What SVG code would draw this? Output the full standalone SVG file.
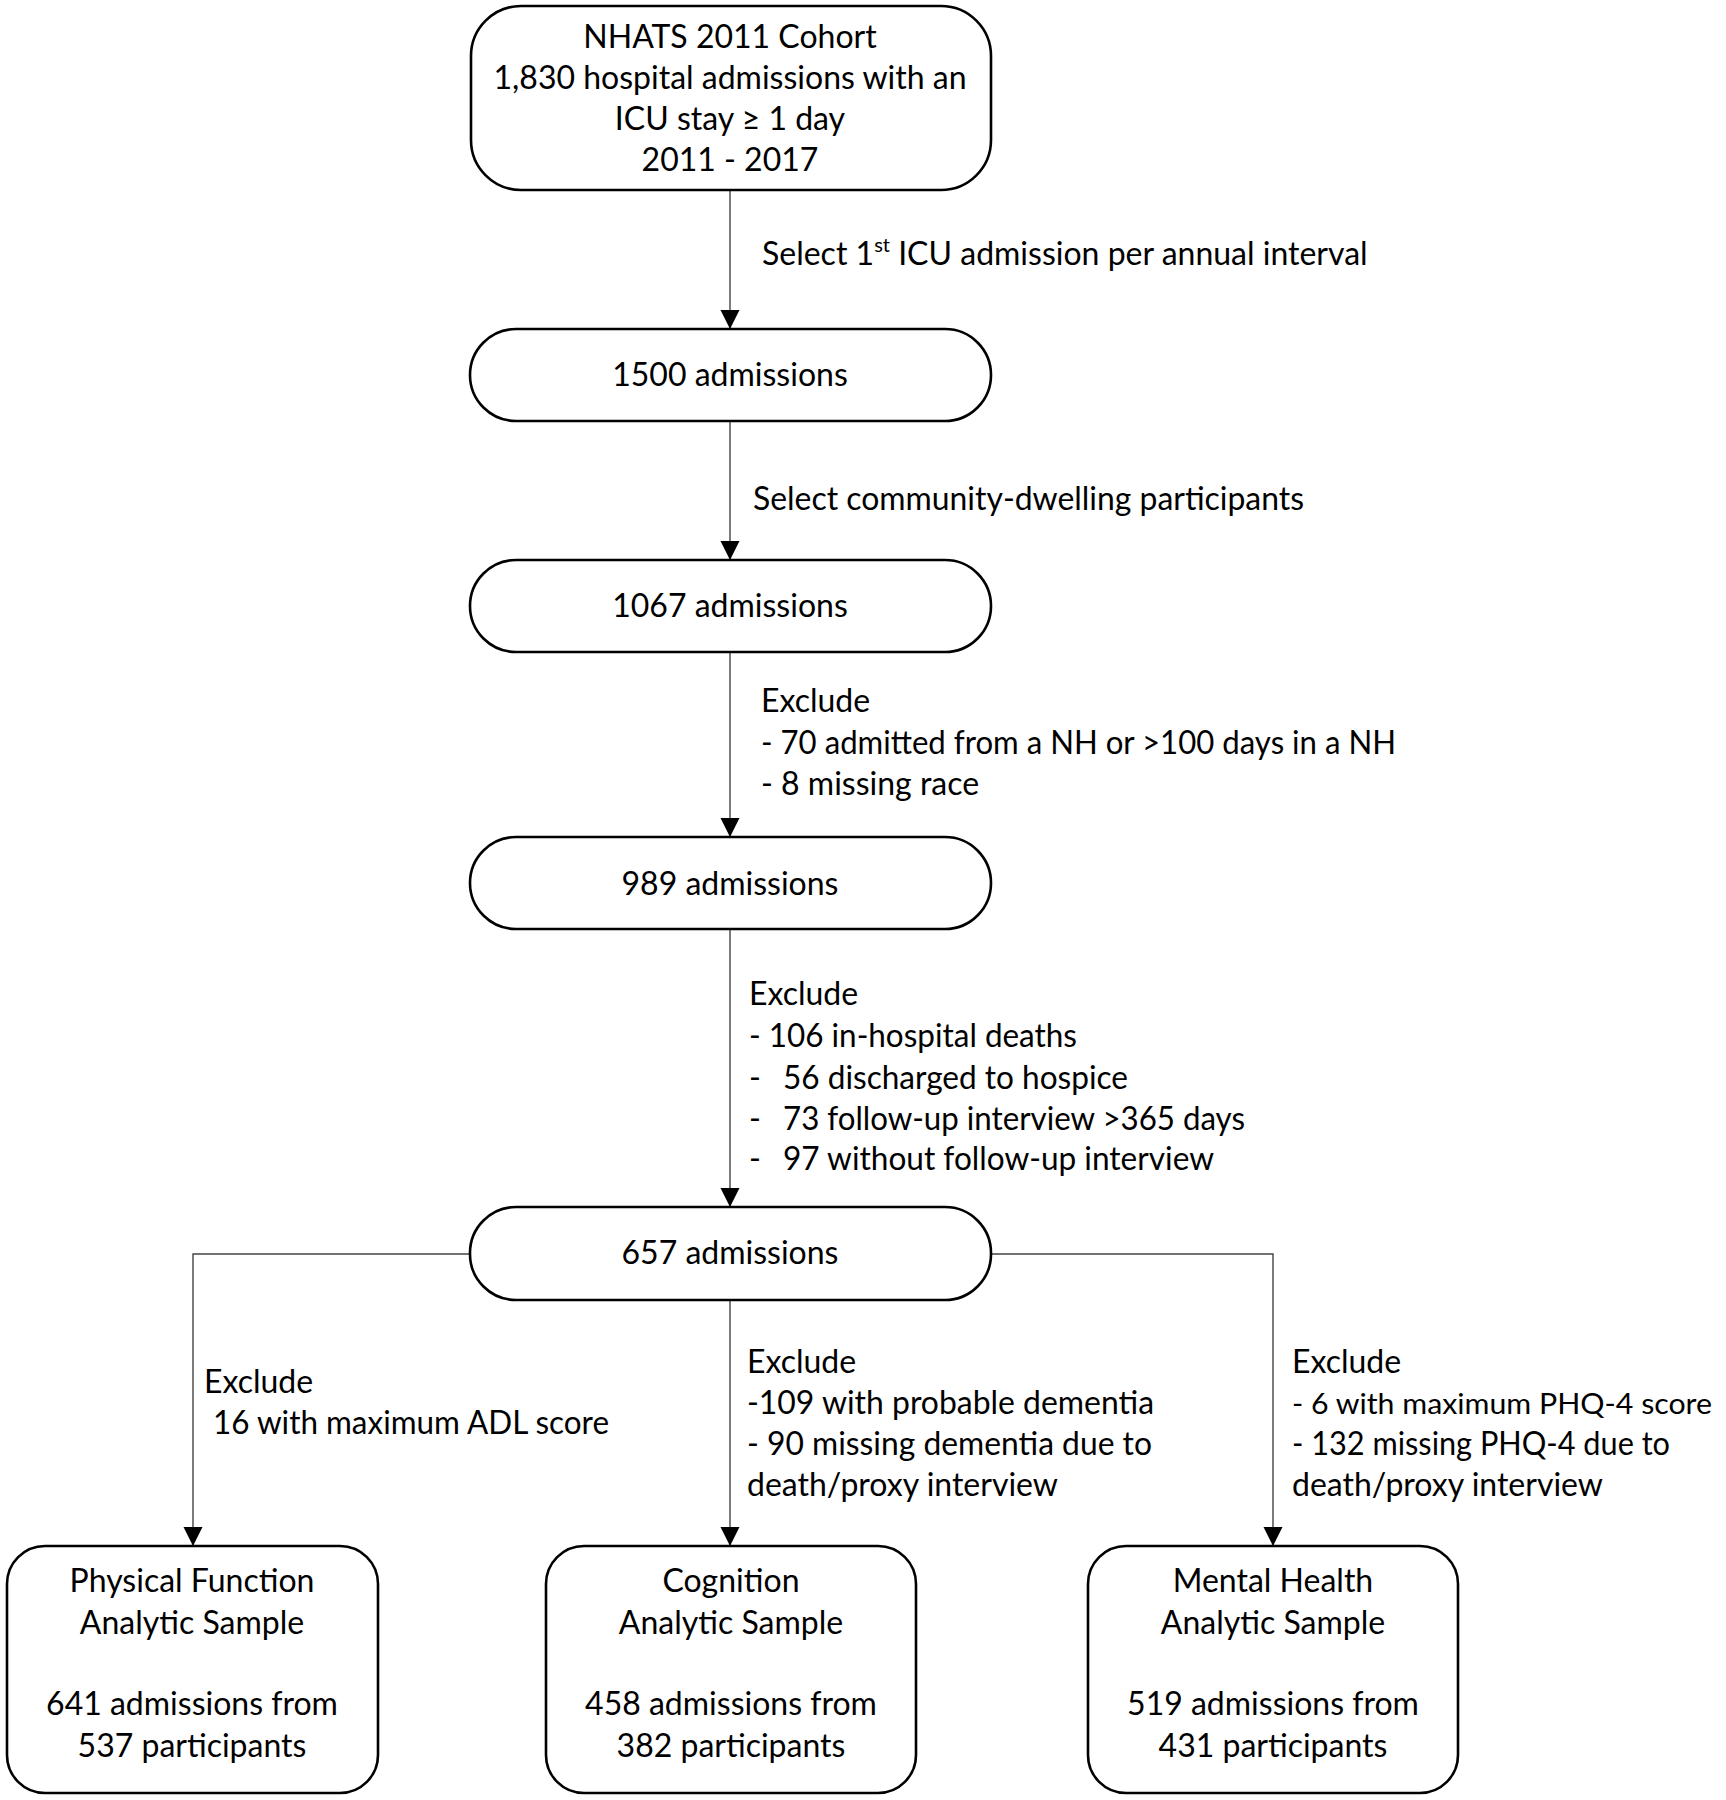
<svg xmlns="http://www.w3.org/2000/svg" width="1726" height="1800" viewBox="0 0 1726 1800">
<defs>
<marker id="arr" markerUnits="userSpaceOnUse" markerWidth="20" markerHeight="22" refX="19" refY="9.5" orient="auto">
<path d="M0,0 L19,9.5 L0,19 Z" fill="#000"/>
</marker>
<style>
.box{fill:#fff;stroke:#000;stroke-width:2.6}
.t{font-family:Lato,"Liberation Sans",sans-serif;font-size:32px;fill:#000}
.m{text-anchor:middle}
.c{fill:none;stroke:#444;stroke-width:1.4}
</style>
</defs>
<rect width="1726" height="1800" fill="#fff"/>
<g id="connectors">
<line class="c" x1="730" y1="190" x2="730" y2="329" marker-end="url(#arr)"/>
<line class="c" x1="730" y1="421" x2="730" y2="560" marker-end="url(#arr)"/>
<line class="c" x1="730" y1="652" x2="730" y2="837" marker-end="url(#arr)"/>
<line class="c" x1="730" y1="929" x2="730" y2="1207" marker-end="url(#arr)"/>
<line class="c" x1="730" y1="1300" x2="730" y2="1546" marker-end="url(#arr)"/>
<polyline class="c" points="470,1254 193,1254 193,1546" marker-end="url(#arr)"/>
<polyline class="c" points="991,1254 1273,1254 1273,1546" marker-end="url(#arr)"/>
</g>
<g id="labels">
<text class="t" x="762" y="265">Select 1<tspan font-size="20" dy="-13">st</tspan><tspan dy="13"> ICU admission per annual interval</tspan></text>
<text class="t" x="753" y="510" textLength="551" lengthAdjust="spacingAndGlyphs">Select community-dwelling participants</text>
<text class="t" x="761" y="712">Exclude</text>
<text class="t" x="761" y="754" textLength="635" lengthAdjust="spacingAndGlyphs">- 70 admitted from a NH or &gt;100 days in a NH</text>
<text class="t" x="761" y="795">- 8 missing race</text>
<text class="t" x="749" y="1005">Exclude</text>
<text class="t" x="749" y="1047" textLength="328" lengthAdjust="spacingAndGlyphs">- 106 in-hospital deaths</text>
<text class="t" x="749" y="1089">-</text><text class="t" x="783" y="1089" textLength="345" lengthAdjust="spacingAndGlyphs">56 discharged to hospice</text>
<text class="t" x="749" y="1130">-</text><text class="t" x="783" y="1130" textLength="462" lengthAdjust="spacingAndGlyphs">73 follow-up interview &gt;365 days</text>
<text class="t" x="749" y="1170">-</text><text class="t" x="783" y="1170" textLength="431" lengthAdjust="spacingAndGlyphs">97 without follow-up interview</text>
<text class="t" x="204" y="1393">Exclude</text>
<text class="t" x="213" y="1434" textLength="396" lengthAdjust="spacingAndGlyphs">16 with maximum ADL score</text>
<text class="t" x="747" y="1373">Exclude</text>
<text class="t" x="747" y="1414" textLength="407" lengthAdjust="spacingAndGlyphs">-109 with probable dementia</text>
<text class="t" x="747" y="1455" textLength="405" lengthAdjust="spacingAndGlyphs">- 90 missing dementia due to</text>
<text class="t" x="747" y="1496" textLength="311" lengthAdjust="spacingAndGlyphs">death/proxy interview</text>
<text class="t" x="1292" y="1373">Exclude</text>
<text class="t" x="1292" y="1414" style="font-size:29px" textLength="420" lengthAdjust="spacingAndGlyphs">- 6 with maximum PHQ-4 score</text>
<text class="t" x="1292" y="1455" textLength="378" lengthAdjust="spacingAndGlyphs">- 132 missing PHQ-4 due to</text>
<text class="t" x="1292" y="1496" textLength="311" lengthAdjust="spacingAndGlyphs">death/proxy interview</text>
</g>
<g id="n1">
<rect class="box" x="471" y="6" width="520" height="184" rx="50" ry="50"/>
<text class="t m" x="730" y="48">NHATS 2011 Cohort</text>
<text class="t m" x="730" y="89">1,830 hospital admissions with an</text>
<text class="t m" x="730" y="130">ICU stay ≥ 1 day</text>
<text class="t m" x="730" y="171">2011 - 2017</text>
</g>
<g id="n2">
<rect class="box" x="470" y="329" width="521" height="92" rx="46" ry="46"/>
<text class="t m" x="730" y="386">1500 admissions</text>
</g>
<g id="n3">
<rect class="box" x="470" y="560" width="521" height="92" rx="46" ry="46"/>
<text class="t m" x="730" y="617">1067 admissions</text>
</g>
<g id="n4">
<rect class="box" x="470" y="837" width="521" height="92" rx="46" ry="46"/>
<text class="t m" x="730" y="895">989 admissions</text>
</g>
<g id="n5">
<rect class="box" x="470" y="1207" width="521" height="93" rx="46" ry="46"/>
<text class="t m" x="730" y="1264">657 admissions</text>
</g>
<g id="n6">
<rect class="box" x="7" y="1546" width="371" height="247" rx="38" ry="38"/>
<text class="t m" x="192" y="1592">Physical Function</text>
<text class="t m" x="192" y="1634">Analytic Sample</text>
<text class="t m" x="192" y="1715">641 admissions from</text>
<text class="t m" x="192" y="1757">537 participants</text>
</g>
<g id="n7">
<rect class="box" x="546" y="1546" width="370" height="247" rx="38" ry="38"/>
<text class="t m" x="731" y="1592">Cognition</text>
<text class="t m" x="731" y="1634">Analytic Sample</text>
<text class="t m" x="731" y="1715">458 admissions from</text>
<text class="t m" x="731" y="1757">382 participants</text>
</g>
<g id="n8">
<rect class="box" x="1088" y="1546" width="370" height="247" rx="38" ry="38"/>
<text class="t m" x="1273" y="1592">Mental Health</text>
<text class="t m" x="1273" y="1634">Analytic Sample</text>
<text class="t m" x="1273" y="1715">519 admissions from</text>
<text class="t m" x="1273" y="1757">431 participants</text>
</g>
</svg>
